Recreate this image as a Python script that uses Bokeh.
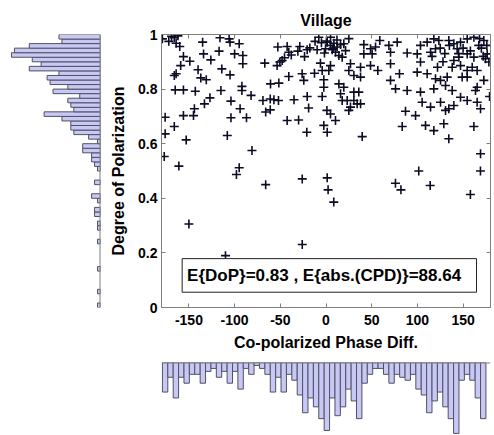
import numpy as np
from bokeh.plotting import figure
from bokeh.layouts import row, column
from bokeh.models import (Range1d, LinearAxis, FixedTicker, CustomJSTickFormatter,
                          BoxAnnotation, Label, Span, Spacer)
from bokeh.embed import file_html
from bokeh.resources import INLINE

# ---------------- data ----------------
title_text = "Village"
x_label = "Co-polarized Phase Diff."
y_label = "Degree of Polarization"
stats_text = "E{DoP}=0.83 , E{abs.(CPD)}=88.64"
x_ticks = [-150, -100, -50, 0, 50, 100, 150]
y_ticks = [0, 0.2, 0.4, 0.6, 0.8, 1.0]

cpd = [-179, -169, -166, -164, -160, -135, -116, -106, -105, -95, -134, -117, -100, -91,
       -156, -149, -126, -91, -67, -159, -140, -114, -164, -166, -105, -137, -131, -165,
       -156, -143, -115, -92, -92, -82, -53.5, -50.5, -45.4, -40.7, -52.7, -42.5, -28.7,
       -20.6, -30.8, -23.5, -7.9, 0.5, -17.7, -9.7, -1.7, -6.1, 3.1, -26.1, -12.6, -40.7,
       -24.3, -2.4, -60.7, -51.6, -2.4, -20.6, -4.2, -127, -133, -144, -145, -156, -176,
       -104, -94, -104, -87, -69, -61, -57, -52, -61, -66, -35, -19, -42.5, -30, 1, -2.4,
       -21, -166, -176, -153, -108, -177, -161, -81, -95,
       -98, -66, -26, 1.3, 2.3, 8.5, 76, 82, 114, 158, 169, 101.5, -150, -110, -26,
       1.3, 4.9, 8.6, 12.2, 15.9, 19.5, 21.4, 10.4, 14.1, 17.7, 6.8, -0.5,
       41.4, 48.7, 54.2, 58.9, 68.8, 77.9, 70.6, 41.4, 50.5, 88.8, 99.8, 103.4, 110.7, 118,
       123.5, 119.8, 114.4, 134.4, 139.9, 143.5, 147.2, 154.5, 161.8, 167.2, 172.7, 176.4,
       161.8, 154.5, 145.4, 139.9, 138.1, 147.2, 154.5, 165.4, 174.5, 178.2,
       4.9, -4.2, 26.8, 25, 30.5, 37.8, 37.8, 48.7, 56.7, 70.6, 70.6, 80.4, 76.1, 88.8, 99.8,
       103.4, 110.7, 119.8, 125.3, 132.6, 130.8, 138.1, 149, 154.5, 165.4, 163.6, 172.7,
       14.1, 19.5, 15.9, 17.7, 23.2, 30.5, 34.1, 26.8, 25, 37.8, 30.5, 35.9, 103.4, 118,
       147.2, 154.5, 165.4, 169.1, 179, 105.2, 114.4, 125.3, 130.8, 134.4, 139.9, 87, 98,
       83.4, 108.9, 118, 128.9, 134.4, 161.8, 4.9, 10.4, 1.3, 39.6, 169.1,
       125, 130, 135, 128, 150, 158, 170, 172, 145, 116, 122, 160, 176, 168, -5, 5, 8, -12,
       12, 25, -172, -162, -48, -38]
dop = [0.984, 0.993, 0.988, 0.968, 0.956, 0.972, 0.988, 0.984, 0.972, 0.966, 0.929, 0.939,
       0.929, 0.923, 0.919, 0.902, 0.907, 0.893, 0.895, 0.886, 0.871, 0.874, 0.856, 0.850,
       0.852, 0.841, 0.834, 0.797, 0.797, 0.792, 0.795, 0.810, 0.795, 0.777, 0.886, 0.899,
       0.915, 0.935, 0.954, 0.956, 0.956, 0.944, 0.939, 0.919, 0.990, 0.976, 0.951, 0.944,
       0.932, 0.895, 0.868, 0.856, 0.858, 0.846, 0.832, 0.834, 0.819, 0.822, 0.807, 0.773,
       0.773, 0.768, 0.746, 0.728, 0.703, 0.703, 0.697, 0.756, 0.728, 0.695, 0.695, 0.758,
       0.764, 0.761, 0.758, 0.724, 0.716, 0.761, 0.731, 0.685, 0.687, 0.722, 0.667, 0.642,
       0.663, 0.636, 0.614, 0.630, 0.553, 0.518, 0.575, 0.512,
       0.487, 0.450, 0.471, 0.475, 0.431, 0.386, 0.455, 0.431, 0.447, 0.414, 0.500, 0.500,
       0.306, 0.190, 0.231,
       0.972, 0.960, 0.968, 0.954, 0.963, 0.966, 0.941, 0.935, 0.923, 0.917, 0.944, 0.948,
       0.963, 0.948, 0.954, 0.978, 0.960, 0.972, 0.935, 0.929, 0.929, 0.932, 0.929, 0.960,
       0.972, 0.984, 0.978, 0.948, 0.935, 0.978, 0.966, 0.948, 0.972, 0.984, 0.990, 0.960,
       0.978, 0.929, 0.917, 0.929, 0.917, 0.905, 0.880, 0.886, 0.868, 0.868, 0.911, 0.899,
       0.886, 0.868, 0.893, 0.868, 0.850, 0.880, 0.844, 0.886, 0.868, 0.893, 0.832, 0.856,
       0.801, 0.795, 0.862, 0.899, 0.856, 0.838, 0.832, 0.844, 0.813, 0.795, 0.844, 0.844,
       0.807, 0.795, 0.832,
       0.819, 0.807, 0.783, 0.758, 0.758, 0.758, 0.746, 0.734, 0.722, 0.746, 0.789, 0.789,
       0.789, 0.801, 0.770, 0.758, 0.752, 0.728, 0.773, 0.752, 0.734, 0.752, 0.722, 0.728,
       0.740, 0.719, 0.703, 0.663, 0.667, 0.648, 0.673, 0.618, 0.663, 0.709, 0.685, 0.642,
       0.626, 0.563,
       0.95, 0.93, 0.96, 0.90, 0.95, 0.94, 0.95, 0.92, 0.93, 0.92, 0.88, 0.88, 0.96, 0.985,
       0.97, 0.99, 0.95, 0.975, 0.98, 0.985, 0.975, 0.995, 0.905, 0.925]

# histogram of DoP (60 bins, ascending DoP)
dop_hist_counts = [1, 0, 0, 1, 0, 0, 0, 0, 1, 0, 0, 0, 0, 0, 1, 0, 0, 1, 1, 0,
                   2, 2, 0, 1, 3, 0, 0, 2, 0, 0, 1, 2, 3, 3, 6, 6, 1, 4, 9, 10,
                   10, 13, 19, 9, 10, 11, 7, 16, 11, 17, 18, 14, 24, 20, 23, 30, 29, 24, 13, 14]
dop_hist_lo, dop_hist_hi = 0.19, 1.0

# histogram of co-polarized phase difference (60 bins)
cpd_hist_counts = [10, 5, 12, 5, 7, 4, 4, 7, 3, 2, 5, 3, 7, 3, 9, 2, 4, 1, 2, 4,
                   10, 5, 10, 4, 6, 11, 17, 12, 15, 19, 23, 12, 18, 15, 9, 13, 19, 7, 4, 2,
                   2, 4, 7, 4, 5, 6, 4, 9, 11, 17, 13, 10, 15, 19, 24, 6, 4, 6, 12, 19]
cpd_hist_lo, cpd_hist_hi = -179.0, 175.0

# ---------------- styling ----------------
FONT = "Liberation Sans"
GRAY = "#7f7f7f"
HIST_FILL = "#c8c8f4"
HIST_LINE = "#505066"

# ---------------- main scatter ----------------
p = figure(width=390, height=360, x_range=Range1d(-180, 180), y_range=Range1d(0, 1),
           output_backend="svg", toolbar_location=None,
           min_border_left=57, min_border_right=4, min_border_top=34, min_border_bottom=53)
p.grid.visible = False
p.outline_line_color = GRAY
p.title.text = title_text
p.title.align = "center"
p.title.text_font = FONT
p.title.text_font_size = "16px"
p.title.text_font_style = "bold"
p.title.text_color = "black"
p.title.standoff = 12

xfmt = CustomJSTickFormatter(code="return tick.toFixed(0);")
yfmt = CustomJSTickFormatter(code="return (Math.round(tick*10)/10).toString();")
p.xaxis.ticker = FixedTicker(ticks=x_ticks)
p.yaxis.ticker = FixedTicker(ticks=y_ticks)
p.xaxis.formatter = xfmt
p.yaxis.formatter = yfmt
p.xaxis.axis_label = x_label
p.yaxis.axis_label = y_label

for ax in [p.xaxis[0], p.yaxis[0]]:
    ax.axis_line_color = GRAY
    ax.major_tick_line_color = GRAY
    ax.major_tick_in = 4
    ax.major_tick_out = 0
    ax.minor_tick_line_color = None
    ax.major_label_text_font = FONT
    ax.major_label_text_font_size = "14px"
    ax.major_label_text_font_style = "bold"
    ax.major_label_text_color = "black"
    ax.axis_label_text_font = FONT
    ax.axis_label_text_font_size = "16px"
    ax.axis_label_text_font_style = "bold"
    ax.axis_label_text_color = "black"
p.xaxis.major_label_standoff = 7
p.xaxis.axis_label_standoff = 6
p.yaxis.major_label_standoff = 4
p.yaxis.axis_label_standoff = 8

blank = CustomJSTickFormatter(code="return '';")
top_ax = LinearAxis(ticker=FixedTicker(ticks=x_ticks), formatter=blank)
right_ax = LinearAxis(ticker=FixedTicker(ticks=y_ticks), formatter=blank)
for ax in [top_ax, right_ax]:
    ax.axis_line_color = GRAY
    ax.major_tick_line_color = GRAY
    ax.major_tick_in = 4
    ax.major_tick_out = 0
    ax.minor_tick_line_color = None
    ax.major_label_text_font_size = "0px"
    ax.major_label_standoff = 0
p.add_layout(top_ax, "above")
p.add_layout(right_ax, "right")

p.scatter(cpd, dop, marker="cross", size=9, line_color="#0c0c24", line_width=1.6)

p.add_layout(BoxAnnotation(left=-157.4, right=164.7, bottom=0.056, top=0.179,
                           fill_color="white", fill_alpha=1.0,
                           line_color="#222222", line_width=1, line_alpha=1.0))
p.add_layout(Label(x=-152, y=0.118, text=stats_text, text_font=FONT,
                   text_font_size="17px", text_font_style="bold",
                   text_baseline="middle", text_color="black"))

# ---------------- left histogram (DoP) ----------------
dop_edges = np.linspace(dop_hist_lo, dop_hist_hi, len(dop_hist_counts) + 1)
dc = np.array(dop_hist_counts, dtype=float)
mask = dc > 0
ph = figure(width=104, height=360, x_range=Range1d(33.7, 0),
            y_range=Range1d(dop_hist_lo, dop_hist_hi),
            x_axis_location=None, y_axis_location=None,
            output_backend="svg", toolbar_location=None,
            min_border_left=0, min_border_right=4, min_border_top=34, min_border_bottom=53)
ph.grid.visible = False
ph.outline_line_color = None
ph.quad(left=0, right=dc[mask], bottom=dop_edges[:-1][mask], top=dop_edges[1:][mask],
        fill_color=HIST_FILL, line_color=HIST_LINE, line_width=1)
ph.add_layout(Span(location=0, dimension="height", line_color=GRAY, line_width=2))

# ---------------- bottom histogram (CPD) ----------------
cpd_edges = np.linspace(cpd_hist_lo, cpd_hist_hi, len(cpd_hist_counts) + 1)
cc = np.array(cpd_hist_counts, dtype=float)
pb = figure(width=390, height=75, x_range=Range1d(-180, 180), y_range=Range1d(24.7, 0),
            x_axis_location=None, y_axis_location=None,
            output_backend="svg", toolbar_location=None,
            min_border_left=57, min_border_right=4, min_border_top=2, min_border_bottom=0)
pb.grid.visible = False
pb.outline_line_color = None
pb.quad(left=cpd_edges[:-1], right=cpd_edges[1:], bottom=cc, top=0,
        fill_color=HIST_FILL, line_color=HIST_LINE, line_width=1)
pb.add_layout(Span(location=0, dimension="width", line_color=GRAY, line_width=2))

layout = column(row(ph, p), row(Spacer(width=104, height=75), pb))

open("out.html", "w").write(file_html(layout, INLINE))
